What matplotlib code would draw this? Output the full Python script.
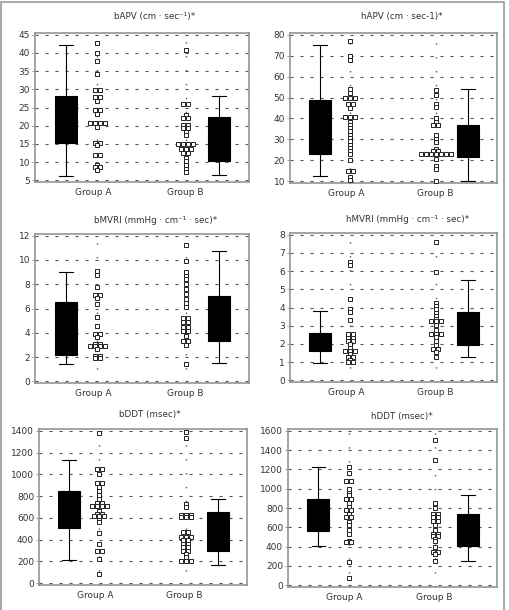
import matplotlib
matplotlib.use("Agg")
import matplotlib.pyplot as plt
from matplotlib.patches import Rectangle
from collections import Counter

# box stats: whisker low, q1, median, q3, whisker high
bapv_box_a = [6.2, 15.2, 21.0, 28.1, 42.1]
bapv_box_b = [6.5, 10.3, 15.0, 22.3, 28.1]
bapv_a = [42.8, 40.0, 37.8, 34.2, 29.9, 29.9, 27.8, 27.8, 26.8, 24.3, 24.3, 23.2,
          20.7, 20.7, 20.7, 20.7, 19.6, 15.3, 15.3, 14.6, 11.9, 11.9, 9.2, 8.6, 8.6, 7.8]
bapv_b = [40.8, 26.0, 26.0, 23.0, 22.0, 22.0, 20.3, 20.3, 19.3, 19.3, 18.4, 17.5,
          15.1, 15.1, 15.1, 15.1, 13.5, 13.5, 13.5, 12.6, 12.6, 11.2, 10.3, 9.2, 8.1, 7.2]

hapv_box_a = [12.7, 22.9, 36.0, 48.9, 75.0]
hapv_box_b = [9.9, 21.7, 25.0, 37.1, 54.0]
hapv_a = [76.8, 69.8, 67.7, 54.2, 52.3, 50.0, 50.0, 50.0, 47.1, 47.1, 45.1,
          40.5, 40.5, 40.5, 38.5, 36.9, 35.3, 33.8, 32.2, 30.6, 29.1, 27.5, 25.9,
          24.3, 22.8, 20.1, 14.9, 14.9, 11.8, 10.5]
hapv_b = [53.7, 51.0, 46.7, 45.4, 40.4, 38.5, 36.9, 36.9, 31.9, 30.3, 28.7, 25.6,
          24.3, 24.3, 23.1, 23.1, 23.1, 23.1, 23.1, 23.1, 23.1, 20.4, 17.3, 15.7, 10.2]

bmvri_box_a = [1.4, 2.2, 3.0, 6.5, 9.0]
bmvri_box_b = [1.47, 3.35, 4.9, 7.07, 10.75]
bmvri_a = [9.12, 8.79, 7.79, 7.12, 7.12, 6.85, 6.4, 5.3, 4.55, 3.86, 3.86, 3.66,
           3.08, 3.08, 2.89, 2.89, 2.89, 2.89, 2.67, 2.1, 2.1, 1.9, 1.9]
bmvri_b = [11.2, 9.9, 8.98, 8.7, 8.43, 8.0, 7.6, 7.18, 6.76, 6.43, 6.15, 5.24, 5.24,
           4.88, 4.88, 4.47, 4.47, 4.13, 4.13, 3.77, 3.3, 3.3, 3.02, 1.42]

hmvri_box_a = [0.96, 1.62, 2.0, 2.58, 3.79]
hmvri_box_b = [1.29, 1.93, 2.8, 3.74, 5.52]
hmvri_a = [6.51, 6.36, 4.49, 3.94, 3.75, 3.29, 2.52, 2.52, 2.34, 2.34, 2.15, 2.15,
           1.97, 1.79, 1.6, 1.6, 1.6, 1.42, 1.27, 1.27, 1.14, 1.03, 1.03]
hmvri_b = [7.61, 5.96, 4.27, 4.08, 3.9, 3.72, 3.53, 3.39, 3.26, 3.26, 3.26, 3.02,
           2.74, 2.56, 2.56, 2.56, 2.38, 2.14, 1.92, 1.73, 1.73, 1.58, 1.27]

bddt_box_a = [214, 510, 700, 849, 1129]
bddt_box_b = [167, 299, 420, 654, 774]
bddt_a = [1378, 1045, 1045, 1007, 919, 919, 881, 850, 812, 771, 740, 740,
          708, 708, 708, 708, 667, 636, 636, 614, 614, 614, 582, 560, 457, 362,
          299, 299, 220, 86]
bddt_b = [1391, 1337, 724, 700, 630, 630, 630, 604, 604, 604, 466, 466, 425, 425,
          425, 394, 394, 362, 362, 331, 331, 299, 299, 268, 236, 202, 202, 202]

hddt_box_a = [402, 562, 780, 896, 1227]
hddt_box_b = [249, 402, 560, 740, 939]
hddt_a = [1227, 1167, 1078, 1078, 995, 960, 930, 896, 896, 853, 810, 782, 782,
          740, 704, 704, 658, 620, 569, 533, 462, 444, 444, 238, 71]
hddt_b = [1500, 1298, 853, 800, 740, 740, 704, 704, 670, 670, 620, 569, 533, 533,
          508, 508, 480, 455, 391, 345, 345, 320, 252]

group_labels = ["Group A", "Group B"]

panels = [
    ("bAPV (cm · sec⁻¹)*", list(range(5, 50, 5)), bapv_box_a, bapv_box_b, bapv_a, bapv_b),
    ("hAPV (cm · sec-1)*", list(range(10, 90, 10)), hapv_box_a, hapv_box_b, hapv_a, hapv_b),
    ("bMVRI (mmHg · cm⁻¹ · sec)*", list(range(0, 14, 2)), bmvri_box_a, bmvri_box_b, bmvri_a, bmvri_b),
    ("hMVRI (mmHg · cm⁻¹ · sec)*", list(range(0, 9, 1)), hmvri_box_a, hmvri_box_b, hmvri_a, hmvri_b),
    ("bDDT (msec)*", list(range(0, 1600, 200)), bddt_box_a, bddt_box_b, bddt_a, bddt_b),
    ("hDDT (msec)*", list(range(0, 1800, 200)), hddt_box_a, hddt_box_b, hddt_a, hddt_b),
]

# axes boxes in pixels: left, top, right, bottom ; title centre x, y
W, H = 509, 610
frames = [
    (35, 33, 249, 182, 155, 16),
    (290, 33, 497, 183, 402, 16),
    (35, 234, 249, 383, 156, 221),
    (290, 233, 497, 382, 408, 220),
    (39, 429, 247, 585, 150, 415),
    (288, 429, 497, 587, 402, 416),
]

fig = plt.figure(figsize=(W / 100, H / 100), dpi=100)
fig.add_artist(Rectangle((0.002, -0.01), 0.988, 1.007, transform=fig.transFigure,
                         fill=False, edgecolor="#9a9a9a", lw=1.2))

pos_box_a, pos_col_a, pos_col_b, pos_box_b = 0.145, 0.29, 0.705, 0.86


def stats(v):
    return dict(whislo=v[0], q1=v[1], med=v[2], q3=v[3], whishi=v[4])


def spread(values, x0, dx):
    counts = Counter(values)
    seen = Counter()
    xs = []
    for v in values:
        n = counts[v]
        xs.append(x0 + (seen[v] - (n - 1) / 2) * dx)
        seen[v] += 1
    return xs


for (title, ticks, box_a, box_b, pts_a, pts_b), fr in zip(panels, frames):
    left, top, right, bottom, tx, ty = fr
    ax = fig.add_axes([left / W, 1 - bottom / H, (right - left) / W, (bottom - top) / H])
    lo, hi = ticks[0], ticks[-1]
    pad = (hi - lo) * 0.012
    ax.set_ylim(lo - pad, hi + pad)
    ax.set_xlim(0, 1)
    ax.set_yticks(ticks)
    ax.set_xticks([0.27, 0.70])
    ax.set_xticklabels(group_labels)

    for y in ticks:
        ax.axhline(y, color="#555555", lw=0.8, dashes=(2.8, 6.2), zorder=0)

    for xc in (pos_col_a, pos_col_b):
        ax.axvline(xc, color="#555555", lw=1.0, dashes=(1.0, 9.0), zorder=1)

    ax.bxp([stats(box_a), stats(box_b)], positions=[pos_box_a, pos_box_b],
           widths=0.105, capwidths=0.065, showfliers=False, patch_artist=True,
           boxprops=dict(facecolor="black", edgecolor="black", lw=0.8),
           medianprops=dict(color="black", lw=0.8),
           whiskerprops=dict(color="black", lw=0.8),
           capprops=dict(color="black", lw=0.8), manage_ticks=False, zorder=3)

    dx = 5.0 / (right - left)
    ax.plot(spread(pts_a, pos_col_a, dx), pts_a, "s", ms=3.5, mfc="white",
            mec="#222222", mew=0.7, zorder=4)
    ax.plot(spread(pts_b, pos_col_b, dx), pts_b, "s", ms=3.5, mfc="white",
            mec="#222222", mew=0.7, zorder=4)

    for s in ax.spines.values():
        s.set_color("#8c8c8c")
        s.set_linewidth(1.1)
    ax.tick_params(axis="y", length=2, width=0.6, pad=1.5, labelsize=6.5,
                   colors="#8c8c8c", labelcolor="#333333")
    ax.tick_params(axis="x", length=0, pad=4, labelsize=6.5, labelcolor="#333333")

    fig.text(tx / W, 1 - ty / H, title, ha="center", va="center", fontsize=6.3,
             color="#333333")

fig.savefig("out.png", dpi=100)
